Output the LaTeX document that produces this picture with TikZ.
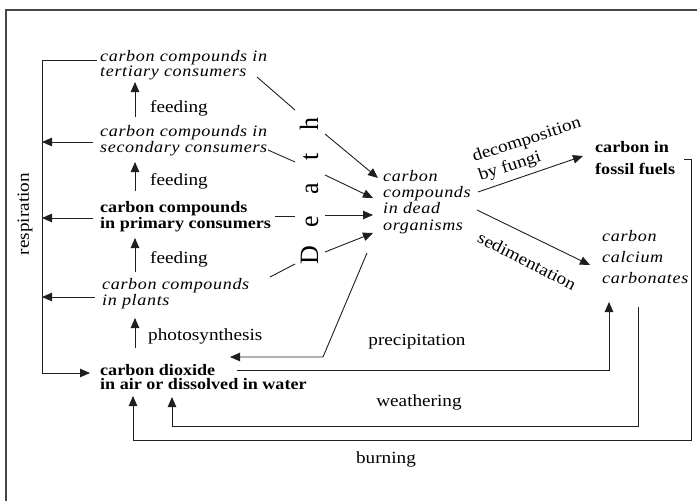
\documentclass[tikz,border=0pt]{standalone}
\usepackage{fontspec}
\setmainfont[FakeStretch=1.13]{Liberation Serif}
\newfontfamily\itfont[FakeStretch=1.13,LetterSpace=4]{Liberation Serif}
\usetikzlibrary{arrows.meta}
\begin{document}
\begin{tikzpicture}[x=1pt,y=-1pt,
  conn/.style={draw=black!88, line width=0.9pt},
  arr/.style={conn, -{Triangle[length=10pt,width=8.5pt]}},
  itnode/.style={font=\itfont\itshape\fontsize{16}{13.5}\selectfont, align=left, inner sep=0pt, anchor=base west},
  bfnode/.style={font=\bfseries\fontsize{16}{13.3}\selectfont, align=left, inner sep=0pt, anchor=base west},
  lbl/.style={font=\fontsize{17}{20}\selectfont, inner sep=0pt, anchor=base west},
]
\useasboundingbox (0,0) rectangle (697,501);
\draw[draw=black!72, line width=1.6pt] (6,10) rectangle (730,540);

% nodes (base anchor = baseline of last line)
\node[itnode] (tert) at (100,76) {carbon compounds in\\tertiary consumers};
\node[itnode] (sec) at (100,152) {carbon compounds in\\secondary consumers};
\node[bfnode] (prim) at (100,228) {carbon compounds\\in primary consumers};
\node[itnode] (plant) at (102,305) {carbon compounds\\in plants};
\node[bfnode] (co2) at (100,389) {carbon dioxide\\in air or dissolved in water};
\node[itnode, font=\itfont\itshape\fontsize{16}{16.2}\selectfont] (dead) at (383,230) {carbon\\compounds\\in dead\\organisms};
\node[bfnode, font=\bfseries\fontsize{16}{22}\selectfont] (foss) at (595,174) {carbon in\\fossil fuels};
\node[itnode, font=\itfont\itshape\fontsize{16}{20.7}\selectfont] (calc) at (602,283) {carbon\\calcium\\carbonates};

% labels
\node[lbl] (f1) at (150,112) {feeding};
\node[lbl] (f2) at (150,185) {feeding};
\node[lbl] (f3) at (150,263) {feeding};
\node[lbl] (ph) at (148,340) {photosynthesis};
\node[lbl, anchor=center, rotate=90] (resp) at (25,214) {respiration};
\node[lbl, anchor=base] (prec) at (417,345) {precipitation};
\node[lbl, anchor=base] (weath) at (419,406) {weathering};
\node[lbl, anchor=base] (burn) at (386,463) {burning};
\node[lbl, anchor=center, rotate=18, align=left] (dec) at (530,150) {decomposition\\by fungi};
\node[lbl, anchor=center, rotate=-27] (sed) at (527,261) {sedimentation};
\node[anchor=center, rotate=90, inner sep=0pt, font=\fontsize{23}{23}\selectfont] (death) at (309,191) {\scalebox{1}[1.15]{D\hspace{18pt}e\hspace{21pt}a\hspace{23pt}t\hspace{22pt}h}};

% coordinates
\coordinate (t1) at (257,77);  \coordinate (t2) at (295,110);
\coordinate (t3) at (325,134); \coordinate (t4) at (378,178);
\coordinate (s1) at (268,150); \coordinate (s2) at (295,162);
\coordinate (s3) at (325,175); \coordinate (s4) at (373,198);
\coordinate (p1) at (275,216); \coordinate (p2) at (295,216);
\coordinate (p3) at (325,215); \coordinate (p4) at (373,215);
\coordinate (l1) at (270,277); \coordinate (l2) at (295,264);
\coordinate (l3) at (325,252); \coordinate (l4) at (373,233);
\coordinate (d1) at (367,253); \coordinate (d2) at (323,357); \coordinate (d3) at (230,357);

\coordinate (fa1) at (135,117); \coordinate (fa2) at (135,82);
\coordinate (fb1) at (135,191); \coordinate (fb2) at (135,162);
\coordinate (fc1) at (135,272); \coordinate (fc2) at (135,238);
\coordinate (fd1) at (135,348); \coordinate (fd2) at (135,318);

\coordinate (r0) at (97,60); \coordinate (r1) at (42,60); \coordinate (r2) at (42,373); \coordinate (r3) at (90,373);
\coordinate (rs) at (93,142); \coordinate (rs2) at (42,142);
\coordinate (rp) at (93,218); \coordinate (rp2) at (42,218);
\coordinate (rl) at (95,297); \coordinate (rl2) at (42,297);

\coordinate (pr1) at (237,370); \coordinate (pr2) at (609,370); \coordinate (pr3) at (609,302);
\coordinate (w1) at (638,307); \coordinate (w2) at (638,426); \coordinate (w3) at (172,426); \coordinate (w4) at (172,397);
\coordinate (b0) at (684,159); \coordinate (b1) at (691,159); \coordinate (b2) at (691,440); \coordinate (b3) at (133,440); \coordinate (b4) at (133,396);
\coordinate (dc1) at (478,192); \coordinate (dc2) at (583,156);
\coordinate (sd1) at (477,210); \coordinate (sd2) at (590,265);

% death connectors
\draw[conn] (t1) -- (t2);
\draw[arr] (t3) -- (t4);
\draw[conn] (s1) -- (s2);
\draw[arr] (s3) -- (s4);
\draw[conn] (p1) -- (p2);
\draw[arr] (p3) -- (p4);
\draw[conn] (l1) -- (l2);
\draw[arr] (l3) -- (l4);
\draw[arr] (d1) -- (d2) -- (d3);

% feeding
\draw[arr] (fa1) -- (fa2);
\draw[arr] (fb1) -- (fb2);
\draw[arr] (fc1) -- (fc2);
\draw[arr] (fd1) -- (fd2);

% respiration
\draw[arr] (r0) -- (r1) -- (r2) -- (r3);
\draw[arr] (rs) -- (rs2);
\draw[arr] (rp) -- (rp2);
\draw[arr] (rl) -- (rl2);

% cycles
\draw[arr] (pr1) -- (pr2) -- (pr3);
\draw[arr] (w1) -- (w2) -- (w3) -- (w4);
\draw[arr] (b0) -- (b1) -- (b2) -- (b3) -- (b4);
\draw[arr] (dc1) -- (dc2);
\draw[arr] (sd1) -- (sd2);
\end{tikzpicture}
\end{document}
